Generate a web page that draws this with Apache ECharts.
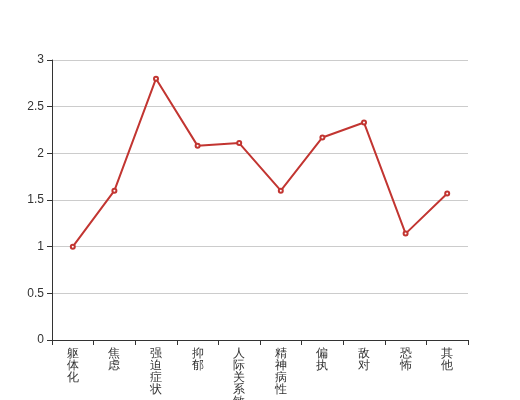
<!DOCTYPE html>
<html><head><meta charset="utf-8">
<script src="https://cdn.jsdelivr.net/npm/echarts@6/dist/echarts.min.js"></script>
<style>html,body{margin:0;padding:0;background:#fff}#c{width:520px;height:400px}</style>
</head><body><div id="c"></div>
<script>
var categories = ['躯体化','焦虑','强迫症状','抑郁','人际关系敏感','精神病性','偏执','敌对','恐怖','其他'];
var values = [1, 1.6, 2.8, 2.08, 2.11, 1.6, 2.17, 2.33, 1.14, 1.57];
var yTicks = [0, 0.5, 1, 1.5, 2, 2.5, 3];
var chart = echarts.init(document.getElementById('c'), null, {renderer:'canvas'});
chart.setOption({
  animation: false,
  grid: {left: 52, right: 52, top: 60, bottom: 60, containLabel: false, outerBoundsMode: 'none'},
  xAxis: {
    type: 'category', data: categories, boundaryGap: true,
    axisLine: {lineStyle: {color: '#333'}},
    axisTick: {show: true, lineStyle: {color: '#333'}},
    axisLabel: {color: '#333', fontSize: 12, interval: 0, lineHeight: 12,
      formatter: function(v){ return v.split('').join('\n'); }}
  },
  yAxis: {
    type: 'value', min: yTicks[0], max: yTicks[yTicks.length-1], interval: 0.5,
    axisLine: {show: true, lineStyle: {color: '#333'}},
    axisTick: {show: true, lineStyle: {color: '#333'}},
    axisLabel: {color: '#333', fontSize: 12},
    splitLine: {lineStyle: {color: '#ccc'}}
  },
  series: [{
    type: 'line', data: values,
    symbol: 'emptyCircle', symbolSize: 4,
    lineStyle: {color: '#c23531', width: 2},
    itemStyle: {color: '#c23531'}
  }]
});
</script></body></html>
